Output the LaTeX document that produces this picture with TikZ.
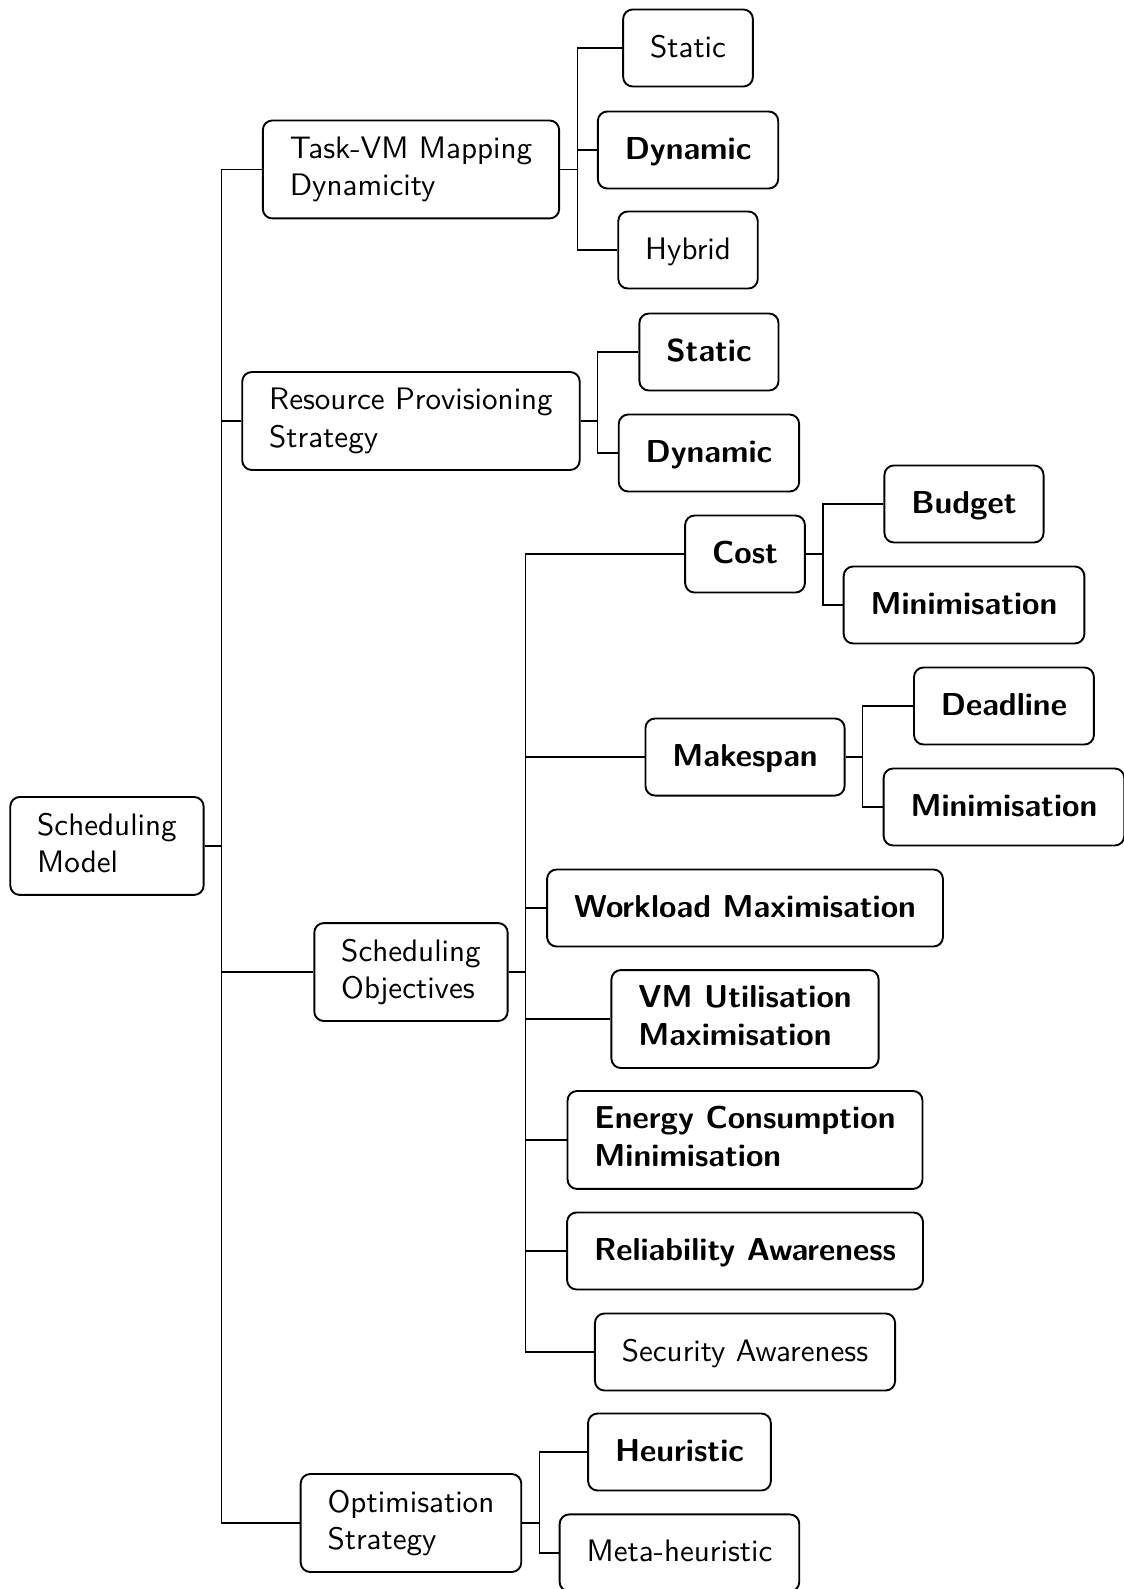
\documentclass[tikz,border=0pt]{standalone}

\tikzstyle{box}=[draw,semithick,rounded corners=3pt,font=\sffamily\fontsize{9.8pt}{11.8pt}\selectfont,align=left,inner xsep=8.5pt,inner ysep=2pt,minimum height=24.3pt]
\tikzstyle{one}=[text height=7.4pt,text depth=1.7pt]
\tikzstyle{tall}=[minimum height=30.9pt]
\tikzstyle{key}=[font=\sffamily\bfseries]
\tikzstyle{fork}=[to path={-- ++(5.4pt,0) |- (\tikztotarget)}]

\begin{document}
\begin{tikzpicture}[line width=0.4pt]
	\useasboundingbox (0,0) rectangle (12.463,-17.619);

	\node [box,tall]     (root)        at (1.186,-9.380)  {Scheduling\\Model\vphantom{y}};

	\node [box,tall]     (taskvm)      at (4.557,-1.879)  {Task-VM Mapping\\Dynamicity};
	\node [box,tall]     (resource)    at (4.557,-4.668)  {Resource Provisioning\\Strategy};
	\node [box,tall]     (objectives)  at (4.557,-10.778) {Scheduling\\Objectives};
	\node [box,tall]     (optim)       at (4.557,-16.887) {Optimisation\\Strategy};

	\node [box,one]      (static1)     at (7.629,-0.532)  {Static};
	\node [box,one,key]  (dynamic1)    at (7.629,-1.663)  {Dynamic};
	\node [box,one]      (hybrid)      at (7.629,-2.772)  {Hybrid};

	\node [box,one,key]  (static2)     at (7.861,-3.903)  {Static};
	\node [box,one,key]  (dynamic2)    at (7.861,-5.023)  {Dynamic};

	\node [box,one,key]  (cost)        at (8.261,-6.143)  {Cost};
	\node [box,one,key]  (budget)      at (10.689,-5.588) {Budget};
	\node [box,one,key]  (costmin)     at (10.689,-6.708) {Minimisation};
	\node [box,one,key]  (makespan)    at (8.261,-8.394)  {Makespan};
	\node [box,one,key]  (deadline)    at (11.132,-7.828) {Deadline};
	\node [box,one,key]  (spanmin)     at (11.132,-8.948) {Minimisation};
	\node [box,one,key]  (workload)    at (8.261,-10.068) {Workload Maximisation};
	\node [box,key,tall] (vmutil)      at (8.261,-11.299) {VM Utilisation\\Maximisation\vphantom{y}};
	\node [box,key,tall] (energy)      at (8.261,-12.640) {Energy Consumption\\Minimisation\vphantom{y}};
	\node [box,one,key]  (reliability) at (8.261,-13.871) {Reliability Awareness};
	\node [box,one]      (security)    at (8.261,-14.991) {Security Awareness};

	\node [box,one,key]  (heuristic)   at (7.534,-16.100) {Heuristic};
	\node [box,one]      (metaheur)    at (7.534,-17.219) {Meta-heuristic};

	% root
	\draw (root.east) edge[fork] (taskvm.west)
	                  edge[fork] (resource.west)
	                  edge[fork] (objectives.west)
	                  edge[fork] (optim.west);
	% mapping dynamicity
	\draw (taskvm.east) edge[fork] (static1.west)
	                    edge[fork] (dynamic1.west)
	                    edge[fork] (hybrid.west);
	% provisioning
	\draw (resource.east) edge[fork] (static2.west)
	                      edge[fork] (dynamic2.west);
	% objectives
	\draw (objectives.east) edge[fork] (cost.west)
	                        edge[fork] (makespan.west)
	                        edge[fork] (workload.west)
	                        edge[fork] (vmutil.west)
	                        edge[fork] (energy.west)
	                        edge[fork] (reliability.west)
	                        edge[fork] (security.west);
	\draw (cost.east) edge[fork] (budget.west)
	                  edge[fork] (costmin.west);
	\draw (makespan.east) edge[fork] (deadline.west)
	                      edge[fork] (spanmin.west);
	% optimisation
	\draw (optim.east) edge[fork] (heuristic.west)
	                   edge[fork] (metaheur.west);
\end{tikzpicture}
\end{document}
